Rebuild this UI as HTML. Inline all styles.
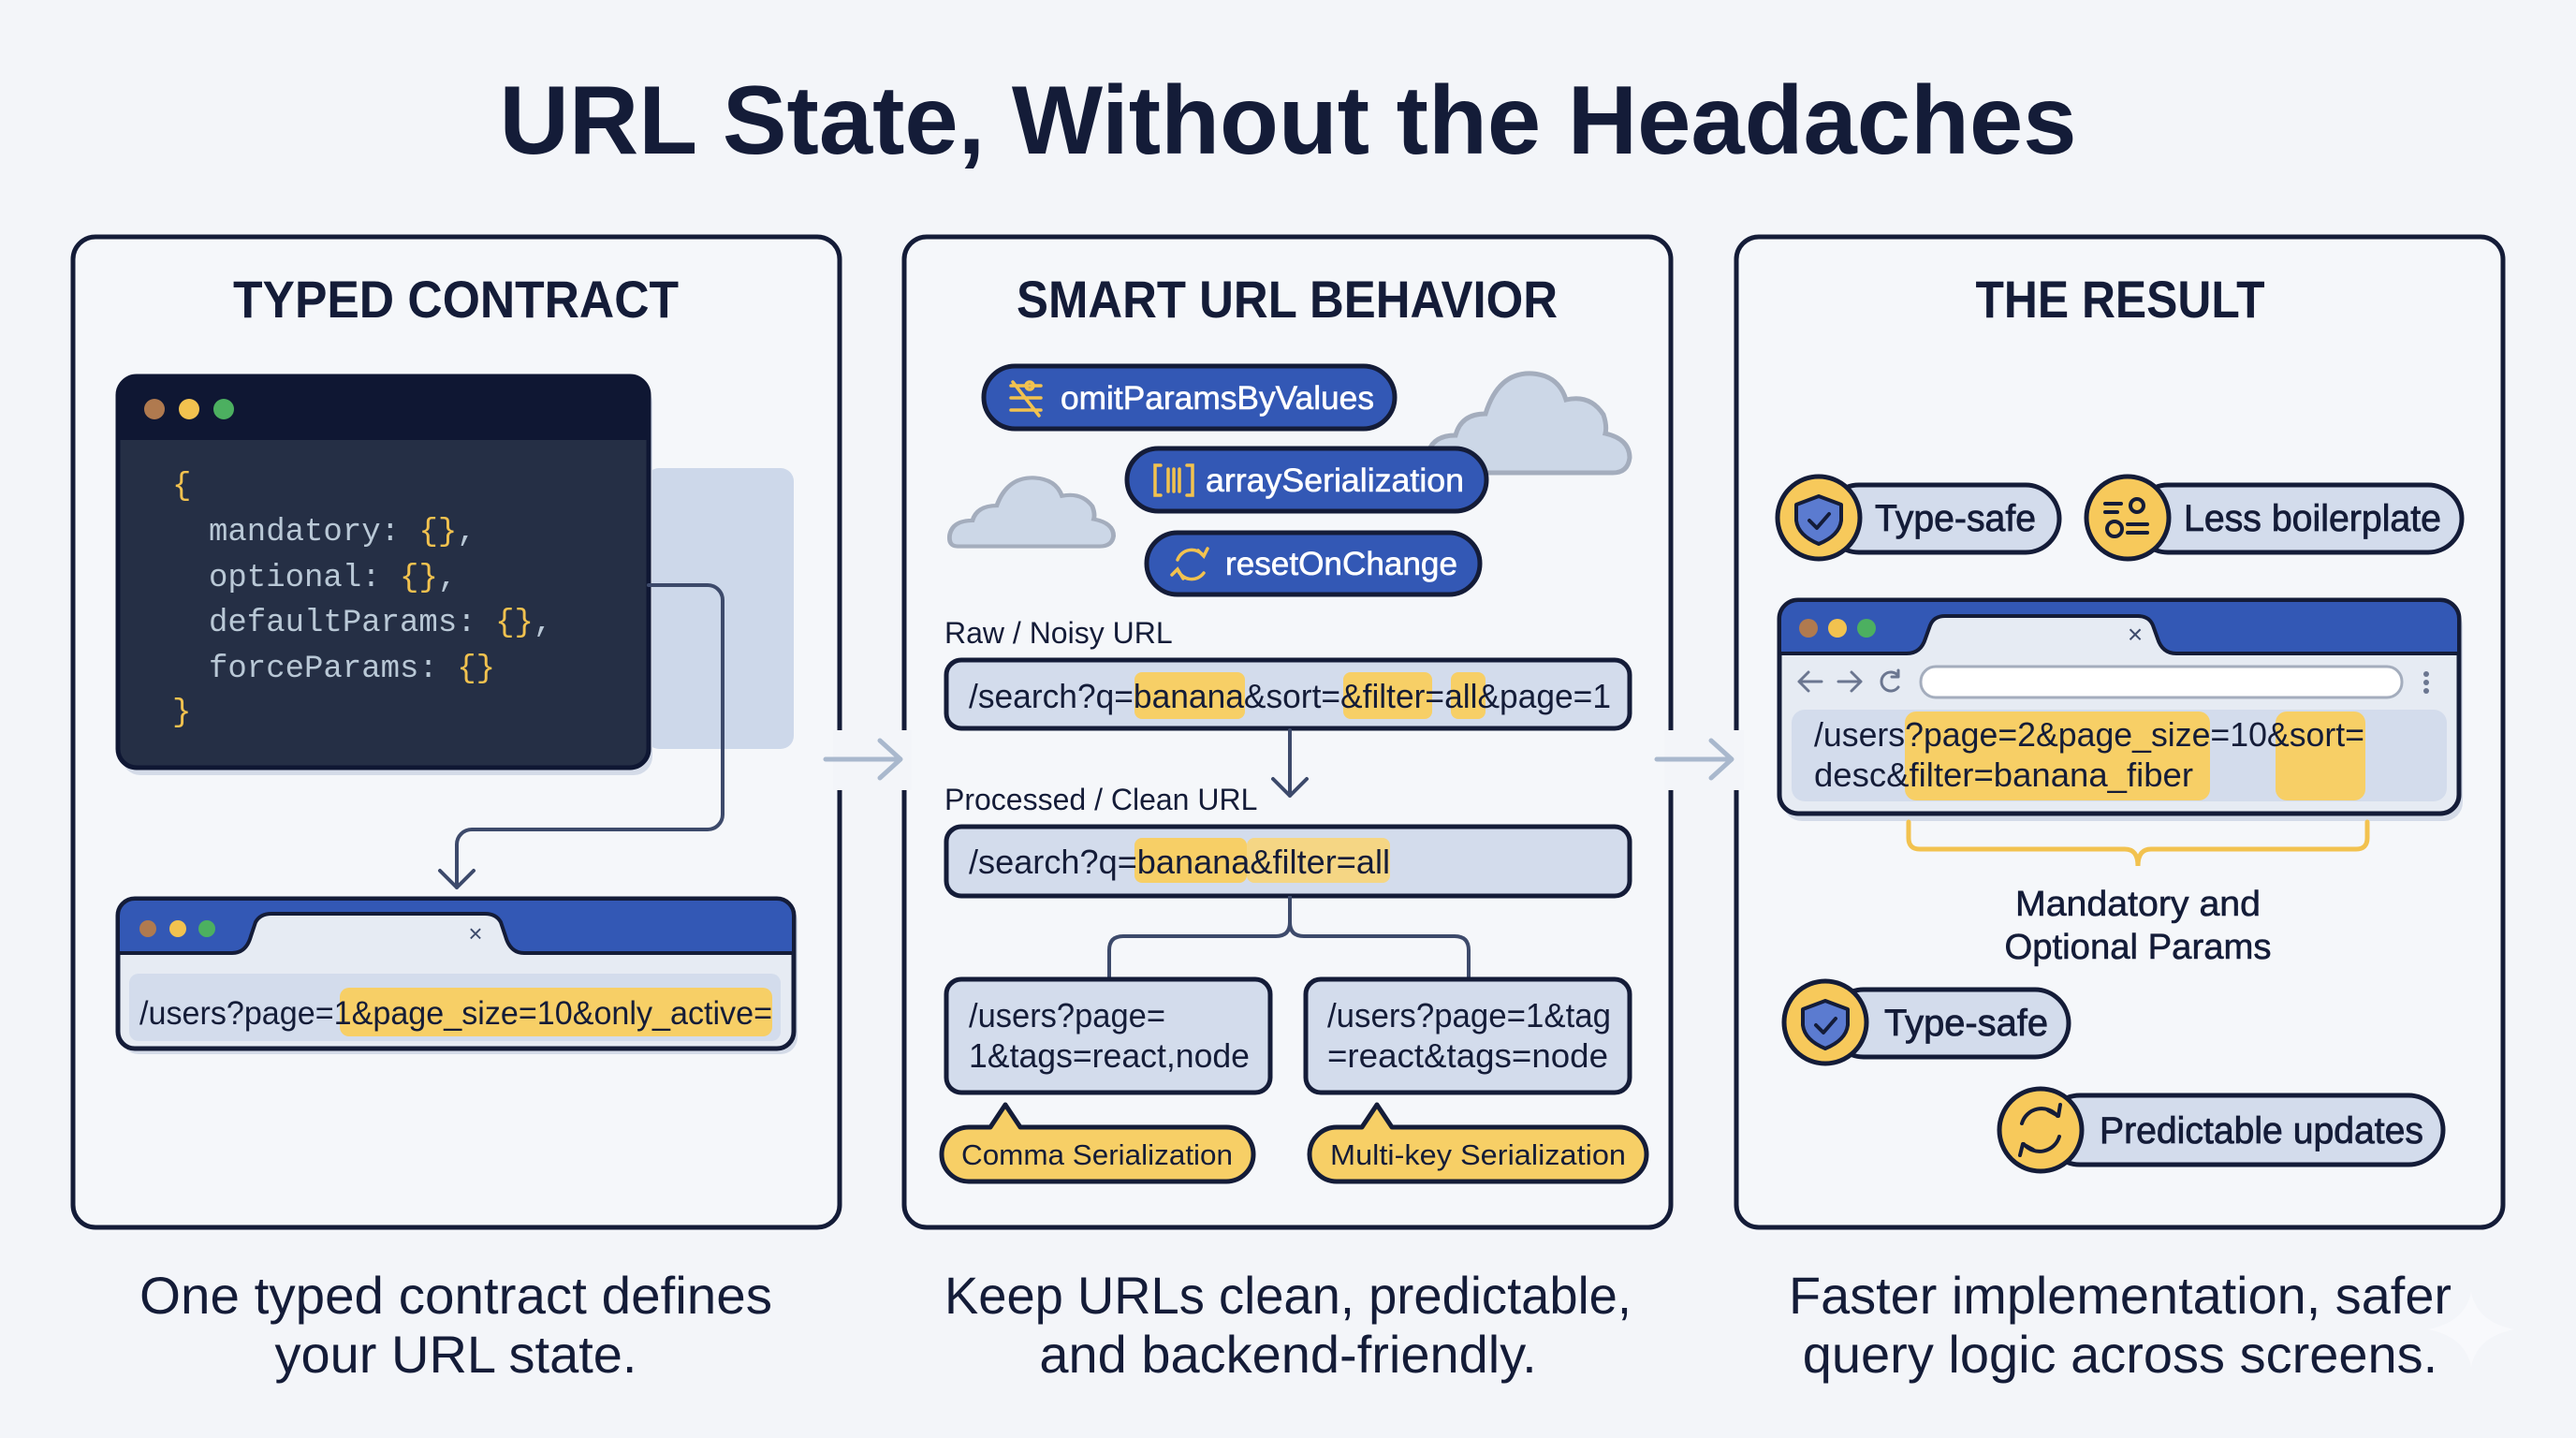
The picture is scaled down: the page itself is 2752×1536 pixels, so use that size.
<!DOCTYPE html>
<html><head><meta charset="utf-8"><style>
html,body{margin:0;padding:0;background:#f3f5f9;}
svg{display:block;}
text{font-family:"Liberation Sans",sans-serif;}
text:not([fill]){fill:#141c38;}
.m{font-family:"Liberation Mono",monospace;}
</style></head><body>
<svg width="2752" height="1536" viewBox="0 0 2752 1536" xmlns="http://www.w3.org/2000/svg">
<defs>
<path id="cloud" d="M12,108 Q0,108 2,90 Q6,68 32,68 Q38,45 64,45 Q78,0 114,2 Q142,4 150,30 Q176,24 190,46 Q194,58 192,66 Q218,72 218,92 Q216,108 200,108 Z"/>
</defs>
<rect width="2752" height="1536" fill="#f3f5f9"/>
<text x="1376" y="164" font-size="104" font-weight="bold" text-anchor="middle" textLength="1685" lengthAdjust="spacingAndGlyphs">URL State, Without the Headaches</text>

<g fill="#f5f7fa" stroke="#141c38" stroke-width="5">
<rect x="78" y="253" width="819" height="1058" rx="24"/>
<rect x="966" y="253" width="819" height="1058" rx="24"/>
<rect x="1855" y="253" width="819" height="1058" rx="24"/>
</g>
<g fill="#f3f5f9">
<rect x="890" y="780" width="14" height="64"/>
<rect x="960" y="780" width="14" height="64"/>
<rect x="1778" y="780" width="14" height="64"/>
<rect x="1849" y="780" width="14" height="64"/>
</g>
<g stroke="#a9b8cd" stroke-width="5" fill="none" stroke-linecap="round" stroke-linejoin="round">
<path d="M882,811 H960 M940,791 L962,811 L940,831"/>
<path d="M1770,811 H1848 M1828,791 L1850,811 L1828,831"/>
</g>

<text x="487" y="339" font-size="56" font-weight="bold" text-anchor="middle" textLength="476" lengthAdjust="spacingAndGlyphs">TYPED CONTRACT</text>
<text x="1375" y="339" font-size="56" font-weight="bold" text-anchor="middle" textLength="578" lengthAdjust="spacingAndGlyphs">SMART URL BEHAVIOR</text>
<text x="2265" y="339" font-size="56" font-weight="bold" text-anchor="middle" textLength="309" lengthAdjust="spacingAndGlyphs">THE RESULT</text>

<!-- LEFT PANEL -->
<rect x="690" y="500" width="158" height="300" rx="14" fill="#cdd8ea"/>
<rect x="130" y="410" width="567" height="418" rx="20" fill="#d4dbe8"/>
<rect x="126" y="402" width="567" height="418" rx="20" fill="#252f45" stroke="#0f1733" stroke-width="5"/>
<path d="M126,470 V422 a20,20 0 0 1 20,-20 H673 a20,20 0 0 1 20,20 V470 Z" fill="#0f1733"/>
<circle cx="165" cy="437" r="11" fill="#b07a4f"/>
<circle cx="202" cy="437" r="11" fill="#f2c24f"/>
<circle cx="239" cy="437" r="11" fill="#4cb060"/>
<g font-size="34">
<text x="184" y="528" fill="#f2c24f" class="m">{</text>
<text x="223" y="577" class="m" fill="#b9c8d6">mandatory: <tspan fill="#f2c24f">{}</tspan>,</text>
<text x="223" y="626" class="m" fill="#b9c8d6">optional: <tspan fill="#f2c24f">{}</tspan>,</text>
<text x="223" y="674" class="m" fill="#b9c8d6">defaultParams: <tspan fill="#f2c24f">{}</tspan>,</text>
<text x="223" y="723" class="m" fill="#b9c8d6">forceParams: <tspan fill="#f2c24f">{}</tspan></text>
<text x="184" y="770" class="m" fill="#f2c24f">}</text>
</g>
<path d="M693,625 H756 a16,16 0 0 1 16,16 V870 a16,16 0 0 1 -16,16 H504 a16,16 0 0 0 -16,16 V948 M470,930 L488,948 L506,930" fill="none" stroke="#3d4a6b" stroke-width="4" stroke-linejoin="round" stroke-linecap="round"/>
<rect x="130" y="966" width="722" height="160" rx="18" fill="#d4dbe8"/>
<rect x="126" y="960" width="722" height="160" rx="18" fill="#e6ebf3" stroke="#141c38" stroke-width="5"/>
<path d="M126,1018 V978 a18,18 0 0 1 18,-18 H830 a18,18 0 0 1 18,18 V1018 H560 Q545,1018 540,1000 L535,985 Q530,976 518,976 H290 Q278,976 273,985 L268,1000 Q263,1018 248,1018 Z" fill="#3358b5" stroke="#141c38" stroke-width="4"/>
<circle cx="158" cy="992" r="9" fill="#b07a4f"/>
<circle cx="190" cy="992" r="9" fill="#f2c24f"/>
<circle cx="221" cy="992" r="9" fill="#4cb060"/>
<text x="508" y="1006" font-size="26" fill="#3d4a6b" text-anchor="middle">×</text>
<rect x="138" y="1040" width="696" height="72" rx="10" fill="#d3dcec"/>
<rect x="363" y="1055" width="462" height="52" rx="10" fill="#f7cf66"/>
<text x="149" y="1094" font-size="35" textLength="676" lengthAdjust="spacingAndGlyphs">/users?page=1&amp;page_size=10&amp;only_active=</text>

<!-- MIDDLE PANEL -->
<use href="#cloud" transform="translate(1523,397)" fill="#ccd7e7" stroke="#a4adbd" stroke-width="5"/>
<use href="#cloud" transform="translate(1013,509) scale(0.81,0.69)" fill="#ccd7e7" stroke="#a4adbd" stroke-width="6"/>
<g stroke="#141c38" stroke-width="5" fill="#3358b5">
<rect x="1051" y="391" width="439" height="67" rx="33.5"/>
<rect x="1204" y="479" width="384" height="67" rx="33.5"/>
<rect x="1225" y="569" width="356" height="66" rx="33"/>
</g>
<g stroke="#f2c24f" stroke-width="3.5" fill="none" stroke-linecap="round">
<path d="M1080,412 H1112 M1080,425 H1112 M1080,438 H1112 M1082,408 L1110,444"/>
<circle cx="1100" cy="412" r="4"/>
<path d="M1240,497 H1234 V529 H1240 M1268,497 H1274 V529 H1268 M1248,501 V525 M1254,501 V525 M1260,501 V525"/>
<path d="M1286,594 A16,16 0 0 0 1258,598 M1258,608 A16,16 0 0 0 1286,612 M1280,588 L1286,594 L1290,586 M1264,618 L1258,608 L1252,614"/>
</g>
<g font-size="35" stroke="#ffffff" stroke-width="0.6">
<text x="1133" y="437" fill="#ffffff" textLength="335" lengthAdjust="spacingAndGlyphs">omitParamsByValues</text>
<text x="1288" y="525" fill="#ffffff" textLength="276" lengthAdjust="spacingAndGlyphs">arraySerialization</text>
<text x="1309" y="614" fill="#ffffff" textLength="248" lengthAdjust="spacingAndGlyphs">resetOnChange</text>
</g>
<text x="1009" y="687" font-size="32">Raw / Noisy URL</text>
<rect x="1011" y="705" width="730" height="73" rx="16" fill="#d3dcec" stroke="#141c38" stroke-width="5"/>
<g fill="#f7cf66">
<rect x="1212" y="718" width="118" height="50" rx="8"/>
<rect x="1435" y="718" width="95" height="50" rx="8"/>
<rect x="1550" y="718" width="37" height="50" rx="8"/>
</g>
<text x="1035" y="756" font-size="36" textLength="686" lengthAdjust="spacingAndGlyphs">/search?q=banana&amp;sort=&amp;filter=all&amp;page=1</text>
<path d="M1378,780 V850 M1360,832 L1378,850 L1396,832" fill="none" stroke="#3d4a6b" stroke-width="4" stroke-linecap="round" stroke-linejoin="round"/>
<text x="1009" y="865" font-size="32">Processed / Clean URL</text>
<rect x="1011" y="883" width="730" height="74" rx="16" fill="#d3dcec" stroke="#141c38" stroke-width="5"/>
<rect x="1212" y="895" width="120" height="48" rx="8" fill="#f7cf66"/>
<rect x="1332" y="895" width="153" height="48" rx="8" fill="#f5d684"/>
<text x="1035" y="933" font-size="36" textLength="450" lengthAdjust="spacingAndGlyphs">/search?q=banana&amp;filter=all</text>
<path d="M1378,957 V985 Q1378,1000 1363,1000 H1200 Q1185,1000 1185,1015 V1046 M1378,985 Q1378,1000 1393,1000 H1554 Q1569,1000 1569,1015 V1046" fill="none" stroke="#3d4a6b" stroke-width="4"/>
<rect x="1011" y="1046" width="346" height="121" rx="16" fill="#d3dcec" stroke="#141c38" stroke-width="5"/>
<rect x="1395" y="1046" width="346" height="121" rx="16" fill="#d3dcec" stroke="#141c38" stroke-width="5"/>
<g font-size="36">
<text x="1035" y="1097" textLength="210" lengthAdjust="spacingAndGlyphs">/users?page=</text>
<text x="1035" y="1140" textLength="300" lengthAdjust="spacingAndGlyphs">1&amp;tags=react,node</text>
<text x="1418" y="1097" textLength="303" lengthAdjust="spacingAndGlyphs">/users?page=1&amp;tag</text>
<text x="1418" y="1140" textLength="300" lengthAdjust="spacingAndGlyphs">=react&amp;tags=node</text>
</g>
<g fill="#f7cf66" stroke="#141c38" stroke-width="5" stroke-linejoin="round">
<path d="M1035,1204 H1058 L1074,1180 L1090,1204 H1310 a29,29 0 0 1 0,58 H1035 a29,29 0 0 1 0,-58 Z"/>
<path d="M1428,1204 H1455 L1471,1180 L1487,1204 H1730 a29,29 0 0 1 0,58 H1428 a29,29 0 0 1 0,-58 Z"/>
</g>
<text x="1172" y="1244" font-size="31" text-anchor="middle" textLength="290" lengthAdjust="spacingAndGlyphs">Comma Serialization</text>
<text x="1579" y="1244" font-size="31" text-anchor="middle" textLength="316" lengthAdjust="spacingAndGlyphs">Multi-key Serialization</text>

<!-- RIGHT PANEL -->
<g stroke="#141c38" stroke-width="5">
<rect x="1950" y="518" width="250" height="72" rx="36" fill="#d3dcec"/>
<rect x="2280" y="518" width="350" height="72" rx="36" fill="#d3dcec"/>
<rect x="1955" y="1057" width="255" height="72" rx="36" fill="#d3dcec"/>
<rect x="2185" y="1170" width="425" height="74" rx="37" fill="#d3dcec"/>
<circle cx="1943" cy="553" r="44" fill="#f7c95b"/>
<circle cx="2273" cy="553" r="44" fill="#f7c95b"/>
<circle cx="1950" cy="1092" r="44" fill="#f7c95b"/>
<circle cx="2180" cy="1207" r="44" fill="#f7c95b"/>
</g>
<g stroke="#141c38" stroke-width="4" stroke-linejoin="round">
<path d="M1943,530 L1967,539 V556 Q1965,572 1943,581 Q1921,572 1919,556 V539 Z" fill="#5b7bd0"/>
<path d="M1950,1069 L1974,1078 V1095 Q1972,1111 1950,1120 Q1928,1111 1926,1095 V1078 Z" fill="#5b7bd0"/>
</g>
<g stroke="#141c38" stroke-width="4" fill="none" stroke-linecap="round" stroke-linejoin="round">
<path d="M1933,556 L1941,564 L1954,549"/>
<path d="M1940,1095 L1948,1103 L1961,1088"/>
<path d="M2249,538 H2266 M2249,547 H2262 M2273,560 H2294 M2273,569 H2294"/>
<circle cx="2283" cy="540" r="7"/>
<circle cx="2259" cy="565" r="8"/>
<path d="M2198,1192 A22,22 0 0 0 2160,1200 M2162,1222 A22,22 0 0 0 2200,1214 M2188,1186 L2199,1192 L2201,1180 M2172,1228 L2161,1222 L2158,1234"/>
</g>
<g font-size="40" stroke="#141c38" stroke-width="0.8">
<text x="2003" y="567" textLength="172" lengthAdjust="spacingAndGlyphs">Type-safe</text>
<text x="2333" y="567" textLength="275" lengthAdjust="spacingAndGlyphs">Less boilerplate</text>
<text x="2013" y="1106" textLength="175" lengthAdjust="spacingAndGlyphs">Type-safe</text>
<text x="2243" y="1221" textLength="346" lengthAdjust="spacingAndGlyphs">Predictable updates</text>
</g>
<rect x="1905" y="649" width="726" height="228" rx="20" fill="#d4dbe8"/>
<rect x="1901" y="641" width="726" height="228" rx="20" fill="#e6ebf3" stroke="#141c38" stroke-width="5"/>
<path d="M1901,698 V661 a20,20 0 0 1 20,-20 H2607 a20,20 0 0 1 20,20 V698 H2325 Q2310,698 2305,682 L2300,668 Q2296,658 2284,658 H2078 Q2066,658 2062,668 L2057,682 Q2052,698 2037,698 Z" fill="#3358b5" stroke="#141c38" stroke-width="4"/>
<circle cx="1932" cy="671" r="10" fill="#b07a4f"/>
<circle cx="1963" cy="671" r="10" fill="#f2c24f"/>
<circle cx="1994" cy="671" r="10" fill="#4cb060"/>
<text x="2281" y="687" font-size="28" fill="#3d4a6b" text-anchor="middle">×</text>
<g stroke="#6b7690" stroke-width="3" fill="none" stroke-linecap="round" stroke-linejoin="round">
<path d="M1922,728 H1946 M1932,718 L1922,728 L1932,738"/>
<path d="M1964,728 H1988 M1978,718 L1988,728 L1978,738"/>
<path d="M2028,722 A10,10 0 1 0 2028,734 M2028,716 V723 H2021"/>
</g>
<rect x="2052" y="712" width="514" height="33" rx="16" fill="#ffffff" stroke="#a4adbd" stroke-width="3"/>
<g fill="#6b7690"><circle cx="2592" cy="720" r="3"/><circle cx="2592" cy="729" r="3"/><circle cx="2592" cy="738" r="3"/></g>
<rect x="1914" y="758" width="700" height="98" rx="14" fill="#d3dcec"/>
<rect x="2035" y="760" width="326" height="95" rx="12" fill="#f7cf66"/>
<rect x="2431" y="760" width="96" height="95" rx="12" fill="#f7cf66"/>
<g font-size="36">
<text x="1938" y="797" textLength="588" lengthAdjust="spacingAndGlyphs">/users?page=2&amp;page_size=10&amp;sort=</text>
<text x="1938" y="840" textLength="405" lengthAdjust="spacingAndGlyphs">desc&amp;filter=banana_fiber</text>
</g>
<path d="M2039,878 V895 Q2039,907 2051,907 H2270 Q2284,907 2284,925 Q2284,907 2298,907 H2517 Q2529,907 2529,895 V878" fill="none" stroke="#f2c24f" stroke-width="5" stroke-linecap="round"/>
<g font-size="38" text-anchor="middle" stroke="#141c38" stroke-width="0.6">
<text x="2284" y="978" textLength="262" lengthAdjust="spacingAndGlyphs">Mandatory and</text>
<text x="2284" y="1024" textLength="285" lengthAdjust="spacingAndGlyphs">Optional Params</text>
</g>

<g font-size="56" text-anchor="middle">
<text x="487" y="1403" textLength="676" lengthAdjust="spacingAndGlyphs">One typed contract defines</text>
<text x="487" y="1466">your URL state.</text>
<text x="1376" y="1403" textLength="734" lengthAdjust="spacingAndGlyphs">Keep URLs clean, predictable,</text>
<text x="1376" y="1466">and backend-friendly.</text>
<text x="2265" y="1403" textLength="708" lengthAdjust="spacingAndGlyphs">Faster implementation, safer</text>
<text x="2265" y="1466">query logic across screens.</text>
</g>
<path d="M2640,1380 Q2646,1412 2686,1420 Q2646,1428 2640,1460 Q2634,1428 2594,1420 Q2634,1412 2640,1380 Z" fill="#f8f9fc"/>
</svg>
</body></html>
